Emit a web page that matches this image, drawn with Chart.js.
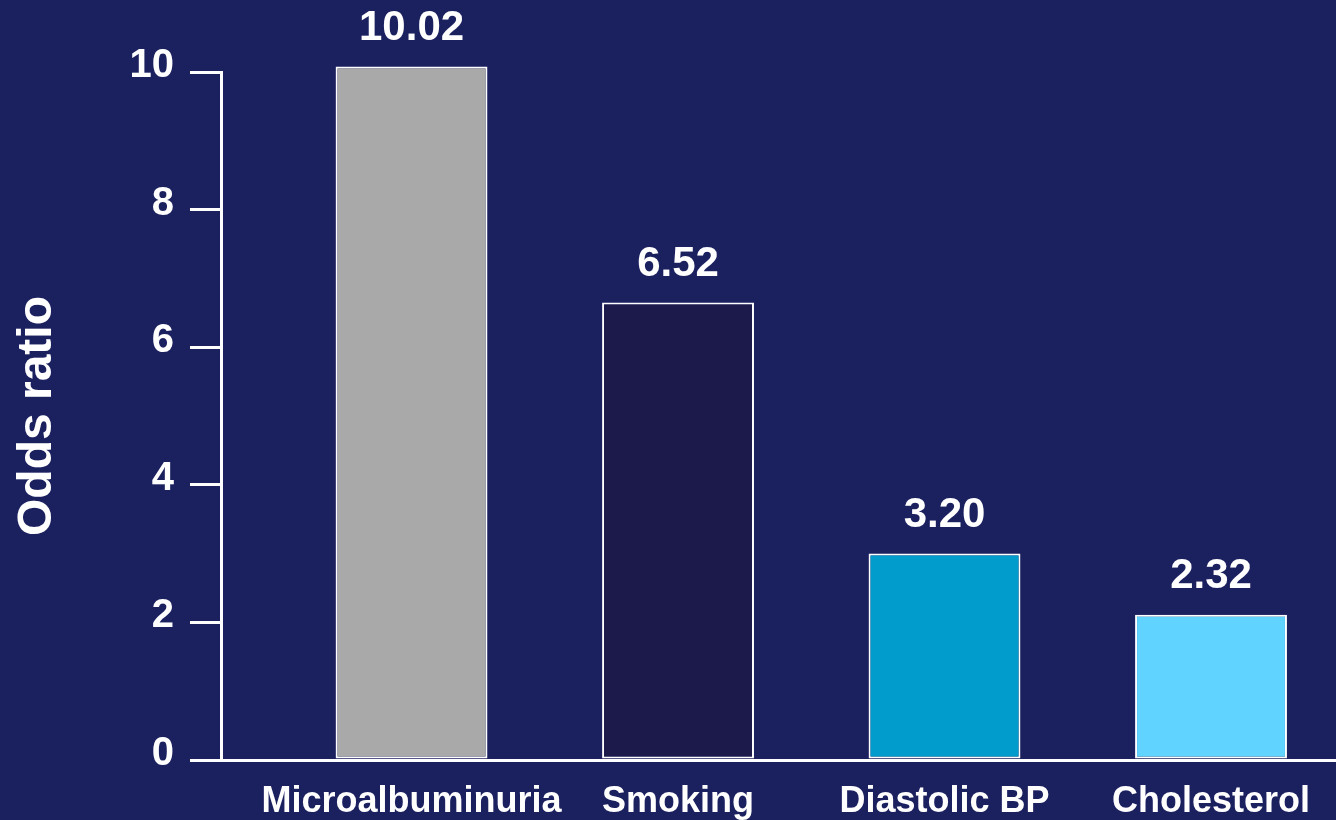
<!DOCTYPE html>
<html>
<head>
<meta charset="utf-8">
<script src="https://cdn.jsdelivr.net/npm/chart.js@4/dist/chart.umd.min.js"></script>
<style>
    html, body { margin: 0; padding: 0; background: #1b205f; }
    #wrap { width: 1336px; height: 820px; }
</style>
</head>
<body>
<div id="wrap"><canvas id="mainChart"></canvas></div>
<script>
// categories along the x axis
const categories = ["Microalbuminuria", "Smoking", "Diastolic BP", "Cholesterol"]
// bar heights as drawn in the picture
const barHeights = [10.08, 6.65, 3.00, 2.11]
// the numbers printed over the bars
const valueLabels = ["10.02", "6.52", "3.20", "2.32"]
const barColors = ["#a9a9a9", "#1c1a4b", "#019ccc", "#60d4fe"]
    //              gray       dark navy  blue       light cyan
const yTicks = [0, 2, 4, 6, 8, 10]

const bgColor = "#1b205f"
const fontName = "'Liberation Sans', Arial, sans-serif"

const bgPlugin = {
    id: "bg",
    beforeDraw(chart) {
        const ctx = chart.ctx
        ctx.save()
        ctx.fillStyle = bgColor
        ctx.fillRect(0, 0, chart.width, chart.height)
        ctx.restore()
    }
}

// writes the odds ratio over each bar
const valueLabelPlugin = {
    id: "valueLabels",
    afterDatasetsDraw(chart) {
        const ctx = chart.ctx
        const meta = chart.getDatasetMeta(0)
        ctx.save()
        ctx.fillStyle = "#ffffff"
        ctx.font = "bold 42px " + fontName
        ctx.textAlign = "center"
        ctx.textBaseline = "middle"
        meta.data.forEach((bar, i) => {
            ctx.fillText(valueLabels[i], bar.x, bar.y - 38)
        })
        ctx.restore()
    }
}

const points = categories.map((c, i) => ({ x: i, y: barHeights[i] }))

new Chart(document.getElementById("mainChart"), {
    type: "bar",
    data: {
        datasets: [{
            data: points,
            backgroundColor: barColors,
            borderColor: "#ffffff",
            borderWidth: 2,
            borderSkipped: false,
            barPercentage: 0.57,
            categoryPercentage: 1,
            clip: false
        }]
    },
    options: {
        responsive: true,
        maintainAspectRatio: false,
        animation: false,
        layout: { padding: { top: 72, right: 0, bottom: 0, left: 0 } },
        plugins: {
            legend: { display: false },
            tooltip: { enabled: false }
        },
        scales: {
            x: {
                type: "linear",
                offset: false,
                min: -0.715,
                max: 3.469,
                afterFit(scale) { scale.height = 60 },
                grid: { display: false, offset: false },
                border: { display: true, color: "#ffffff", width: 3 },
                afterBuildTicks(scale) {
                    scale.ticks = categories.map((c, i) => ({ value: i }))
                },
                ticks: {
                    color: "#ffffff",
                    padding: 12,
                    maxRotation: 0,
                    autoSkip: false,
                    font: { family: fontName, size: 36, weight: "bold", lineHeight: 1.2 },
                    callback: (v) => categories[v] || ""
                }
            },
            y: {
                min: 0,
                max: 10,
                afterFit(scale) { scale.width = 221 },
                afterBuildTicks(scale) {
                    scale.ticks = yTicks.map(v => ({ value: v }))
                },
                grid: {
                    drawOnChartArea: false,
                    color: "#ffffff",
                    lineWidth: 3,
                    tickLength: 31
                },
                border: { display: true, color: "#ffffff", width: 3 },
                ticks: {
                    color: "#ffffff",
                    padding: 16,
                    labelOffset: -6,
                    font: { family: fontName, size: 40, weight: "bold" }
                },
                title: {
                    display: true,
                    text: "Odds ratio",
                    color: "#ffffff",
                    padding: { top: 9, bottom: 0 },
                    font: { family: fontName, size: 48, weight: "bold", lineHeight: 1.2 }
                }
            }
        }
    },
    plugins: [bgPlugin, valueLabelPlugin]
})
</script>
</body>
</html>
